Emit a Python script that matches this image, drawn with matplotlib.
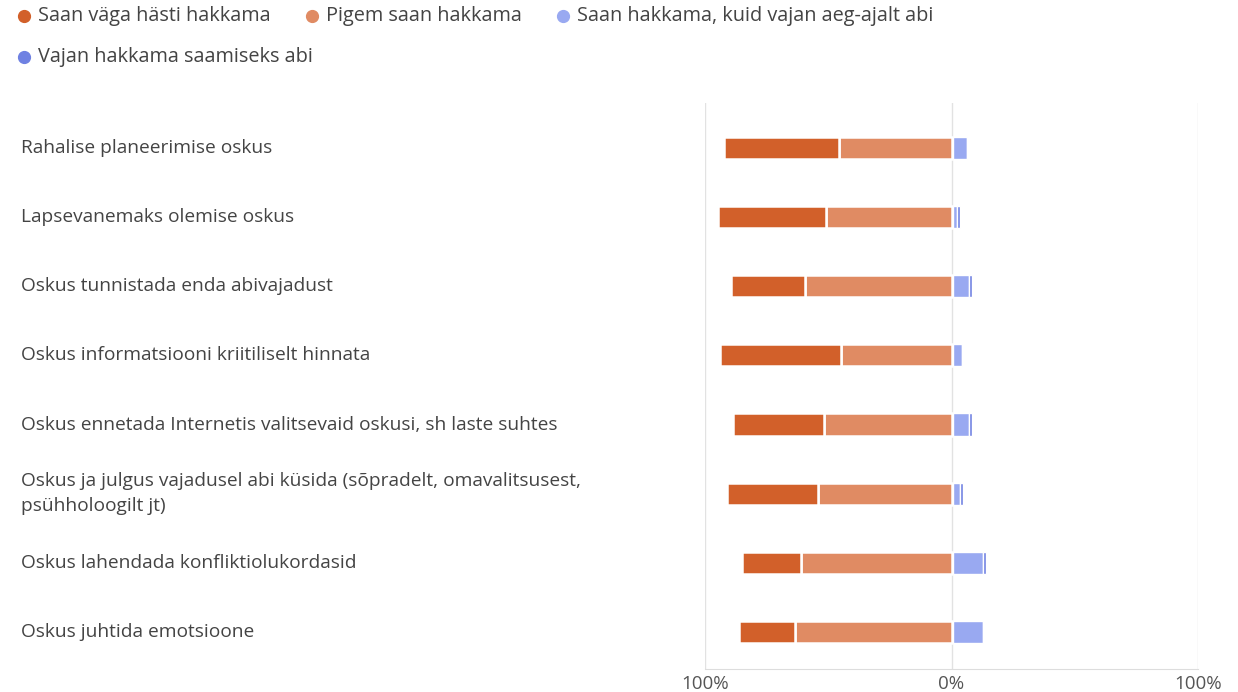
import matplotlib.pyplot as plt
import matplotlib.transforms as mtransforms
from matplotlib.lines import Line2D
import numpy as np

plt.rcParams['font.family'] = ['Open Sans', 'DejaVu Sans']

categories = [
    "Rahalise planeerimise oskus",
    "Lapsevanemaks olemise oskus",
    "Oskus tunnistada enda abivajadust",
    "Oskus informatsiooni kriitiliselt hinnata",
    "Oskus ennetada Internetis valitsevaid oskusi, sh laste suhtes",
    "Oskus ja julgus vajadusel abi küsida (sõpradelt, omavalitsusest,\npsühholoogilt jt)",
    "Oskus lahendada konfliktiolukordasid",
    "Oskus juhtida emotsioone",
]
series_names = [
    "Saan väga hästi hakkama",
    "Pigem saan hakkama",
    "Saan hakkama, kuid vajan aeg-ajalt abi",
    "Vajan hakkama saamiseks abi",
]
very_well = [46.5, 43.7, 29.8, 49.0, 36.7, 36.7, 23.7, 22.9]
rather_well = [45.7, 51.0, 59.6, 45.0, 51.8, 54.3, 61.2, 63.3]
need_sometimes = [5.5, 1.5, 6.5, 3.5, 6.5, 3.0, 12.0, 12.0]
need_help = [0.0, 1.2, 1.2, 0.0, 1.2, 1.2, 1.2, 0.0]
tick_labels = ["100%", "0%", "100%"]

colors = ["#d2602a", "#e08b63", "#99a9f1", "#6f81e2"]
text_col = "#444444"

W, H = 1238, 692
fig = plt.figure(figsize=(W / 100, H / 100), dpi=100)
ax = fig.add_axes([705 / W, 1 - 669 / H, 493 / W, 566 / H])

y = np.arange(len(categories))
h = 0.32
vw = np.array(very_well)
rw = np.array(rather_well)
ns = np.array(need_sometimes)
nh = np.array(need_help)

kw = dict(height=h, edgecolor="white", linewidth=1.8, zorder=3)
ax.barh(y, -rw, left=0, color=colors[1], **kw)
ax.barh(y, -vw, left=-rw, color=colors[0], **kw)
kw["linewidth"] = 1.0
ax.barh(y, ns, left=0.6, color=colors[2], **kw)
ax.barh(y, nh, left=ns + 0.6, color=colors[3], **kw)

ax.set_xlim(-100, 100)
ax.set_ylim(7.535, -0.65)
ax.set_xticks([-100, 0, 100])
ax.set_xticklabels(tick_labels, fontsize=13.5, color="#555555")
ax.tick_params(axis="x", length=0, pad=4)
ax.set_yticks([])
for s in ["top", "left", "right"]:
    ax.spines[s].set_visible(False)
ax.spines["bottom"].set_color("#dddddd")
for xv in [-100, 0, 100]:
    ax.axvline(xv, color="#e2e2e2", linewidth=1, zorder=1)

trans = mtransforms.blended_transform_factory(fig.transFigure, ax.transData)
for yi, lab in zip(y, categories):
    ax.text(21 / W, yi, lab, transform=trans, ha="left", va="center",
            fontsize=13.8, color=text_col, linespacing=1.5)

# legend
leg_pos = [(24, 16), (312, 16), (563, 16), (24, 57)]
for (px, py), name, c in zip(leg_pos, series_names, colors):
    fig.add_artist(Line2D([px / W], [1 - py / H], marker="o", markersize=8.5,
                          color=c, linestyle="none", transform=fig.transFigure))
    fig.text((px + 14) / W, 1 - py / H, name, ha="left", va="center",
             fontsize=14.3, color=text_col)

fig.savefig("out.png", dpi=100)
